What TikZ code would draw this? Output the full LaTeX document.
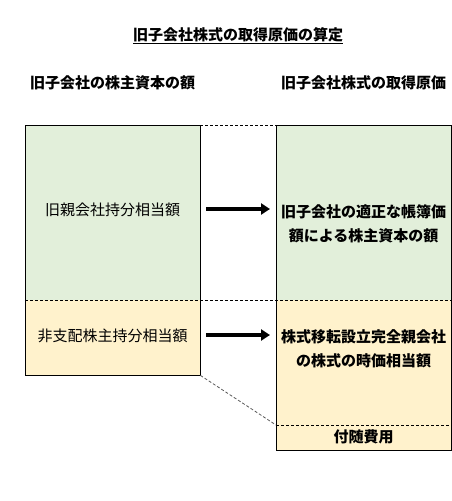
\documentclass[tikz,border=0pt]{standalone}
\usepackage{fontspec}
\setmainfont{Noto Sans CJK JP}
\usetikzlibrary{arrows.meta}
\definecolor{kgreen}{HTML}{E2EFDA}
\definecolor{kyellow}{HTML}{FFF2CC}

\begin{document}
\begin{tikzpicture}[x=1pt,y=-1pt,
    area/.style={anchor=north west,inner sep=0pt,minimum width=175pt},
    txt/.style={font=\fontsize{15}{24}\selectfont,align=center},
    btxt/.style={txt,font=\fontsize{15}{24}\selectfont\bfseries},
    bigarrow/.style={line width=3.5pt,-{Triangle[length=9pt,width=11pt]},shorten <=6pt,shorten >=6pt},
    divider/.style={dashed,dash pattern=on 3pt off 2pt,line width=0.8pt}]
  \useasboundingbox (0,0) rectangle (451,501);
  % left column
  \node[area,fill=kgreen,minimum height=175pt]  (oya) at (25,125) {};
  \node[area,fill=kyellow,minimum height=75pt]  (hi)  at (25,300) {};
  % right column
  \node[area,fill=kgreen,minimum height=175pt]  (ko)  at (276,125) {};
  \node[area,fill=kyellow,minimum height=125pt] (jika) at (276,300) {};
  \node[area,fill=kyellow,minimum height=25pt]  (fuzui) at (276,425) {};
  \draw[line width=1pt] (oya.north west) rectangle (hi.south east);
  \draw[line width=1pt] (ko.north west) rectangle (fuzui.south east);
  \draw[divider] (oya.south west) -- (ko.south east);
  \draw[divider] (oya.north east) -- (ko.north west);
  \draw[divider] (jika.south west) -- (jika.south east);
  \draw[divider,gray!70!black] (hi.south east) -- (fuzui.north west);
  % texts
  \node[btxt] (title) at (238,36) {\underline{旧子会社株式の取得原価の算定}};
  \node[btxt] (lhead) at (oya.north |- 0,83) {旧子会社の株主資本の額};
  \node[btxt] (rhead) at (ko.north |- 0,83) {旧子会社株式の取得原価};
  \node[txt]  (oyatxt) at (oya.center |- 0,210) {旧親会社持分相当額};
  \node[txt]  (hitxt) at (hi.center |- 0,336) {非支配株主持分相当額};
  \node[btxt] (kotxt) at (ko.center |- 0,223.5) {旧子会社の適正な帳簿価\\額による株主資本の額};
  \node[btxt] (jikatxt) at (jika.center |- 0,349) {株式移転設立完全親会社\\の株式の時価相当額};
  \node[btxt] (fuzuitxt) at (fuzui.center |- 0,437) {付随費用};
  \path[bigarrow]
    (oya.east |- 0,209) edge (ko.west |- 0,209)
    (hi.east |- 0,335)  edge (jika.west |- 0,335);
\end{tikzpicture}
\end{document}
